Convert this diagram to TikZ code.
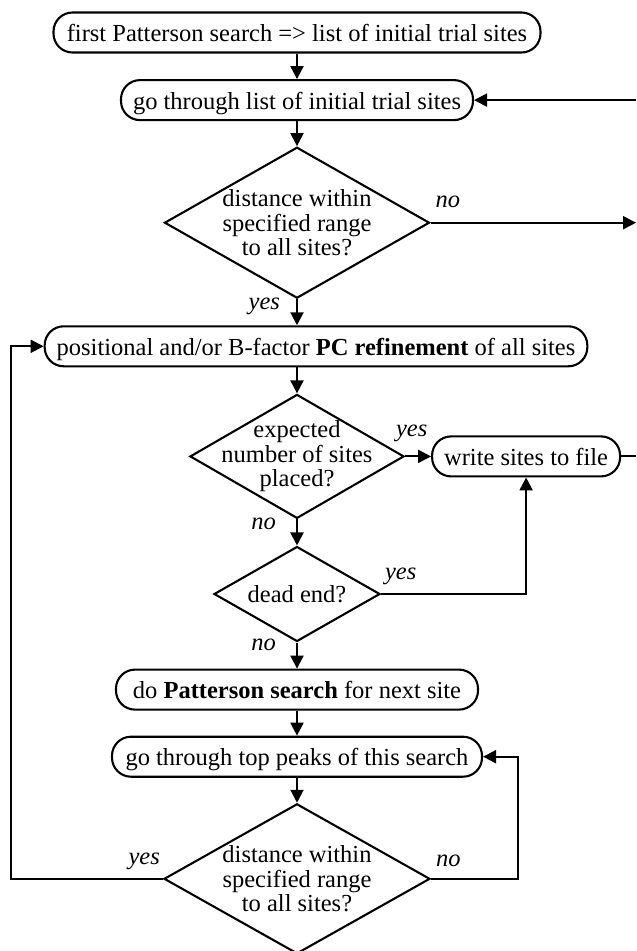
\documentclass[tikz,border=0pt]{standalone}
\usepackage{fontspec}
\setmainfont{Liberation Serif}
\usetikzlibrary{positioning,shapes.geometric,arrows.meta}

\begin{document}
\begin{tikzpicture}[x=1pt,y=1pt,line width=2.1pt,
  >={Triangle[length=13pt,width=13pt]},
  box/.style={draw,rounded corners=19pt,minimum height=40pt,inner xsep=12pt,
    text height=18pt,text depth=0pt,font=\fontsize{24.5}{25}\selectfont},
  decision/.style={draw,diamond,inner sep=-40pt,align=center,
    font=\fontsize{24.5}{24.5}\selectfont},
  lbl/.style={inner sep=0pt,font=\fontsize{24.5}{25}\selectfont\itshape}]
  \useasboundingbox (0,0) rectangle (637,-951);

  \begin{scope}[node distance=26pt]
    \node[box,minimum width=487pt] (first) at (297,-32.5) {first Patterson search => list of initial trial sites};
    \node[box,minimum width=349pt] (trial) [below=25.5pt of first] {go through list of initial trial sites};
    \node[decision,minimum width=265pt,minimum height=151pt] (dist1) [below=25pt of trial] {distance within\\specified range\\to all sites?};
    \node[box,minimum width=537pt] (refine) [below=of dist1,xshift=19pt] {positional and/or B-factor \textbf{PC refinement} of all sites};
    \node[decision,minimum width=214pt,minimum height=124pt] (expect) [below=of refine,xshift=-19pt] {expected\\number of sites\\placed?};
    \node[box,minimum width=187pt] (write) [right=of expect] {write sites to file};
    \node[decision,minimum width=166pt,minimum height=95pt] (dead) [below=of expect] {dead end?};
    \node[box,minimum width=362pt] (search) [below=of dead] {do \textbf{Patterson search} for next site};
    \node[box,minimum width=370pt] (peaks) [below=25pt of search] {go through top peaks of this search};
    \node[decision,minimum width=266pt,minimum height=150pt] (dist2) [below=25pt of peaks] {distance within\\specified range\\to all sites?};
  \end{scope}

  \coordinate (rim) at (636,0);
  \begin{scope}[->]
    \draw (first) -- (trial);
    \draw (trial) -- (dist1);
    \draw (dist1.east) -- (dist1.east -| rim);
    \draw (trial.east -| rim) -- (trial.east);
    \draw (dist1.south) -- (dist1.south |- refine.north);
    \draw (expect.north |- refine.south) -- (expect.north);
    \draw (expect) -- (write);
    \draw (expect) -- (dead);
    \draw (dead.east) -| (write.south);
    \draw (dead) -- (search);
    \draw (search) -- (peaks);
    \draw (peaks) -- (dist2);
    \draw (dist2.east) -- ++(87,0) |- (peaks.east);
    \draw (dist2.west) -- ++(-152,0) |- (refine.west);
  \end{scope}
  \draw (write.east) -- (write.east -| rim);

  % yes / no labels
  \node[lbl,anchor=base west] (no1) at ([shift={(4,15)}]dist1.east) {no};
  \node[lbl,anchor=base east] (yes1) at ([shift={(-16,-10)}]dist1.south) {yes};
  \node[lbl,anchor=base west] (yes2) at ([shift={(-10,20)}]expect.east) {yes};
  \node[lbl,anchor=base east] (no2) at ([shift={(-20,-10)}]expect.south) {no};
  \node[lbl,anchor=base west] (yes3) at ([shift={(3,15)}]dead.east) {yes};
  \node[lbl,anchor=base east] (no3) at ([shift={(-20,-8)}]dead.south) {no};
  \node[lbl,anchor=base east] (yes4) at ([shift={(-2,14)}]dist2.west) {yes};
  \node[lbl,anchor=base west] (no4) at ([shift={(4,12)}]dist2.east) {no};
\end{tikzpicture}
\end{document}
